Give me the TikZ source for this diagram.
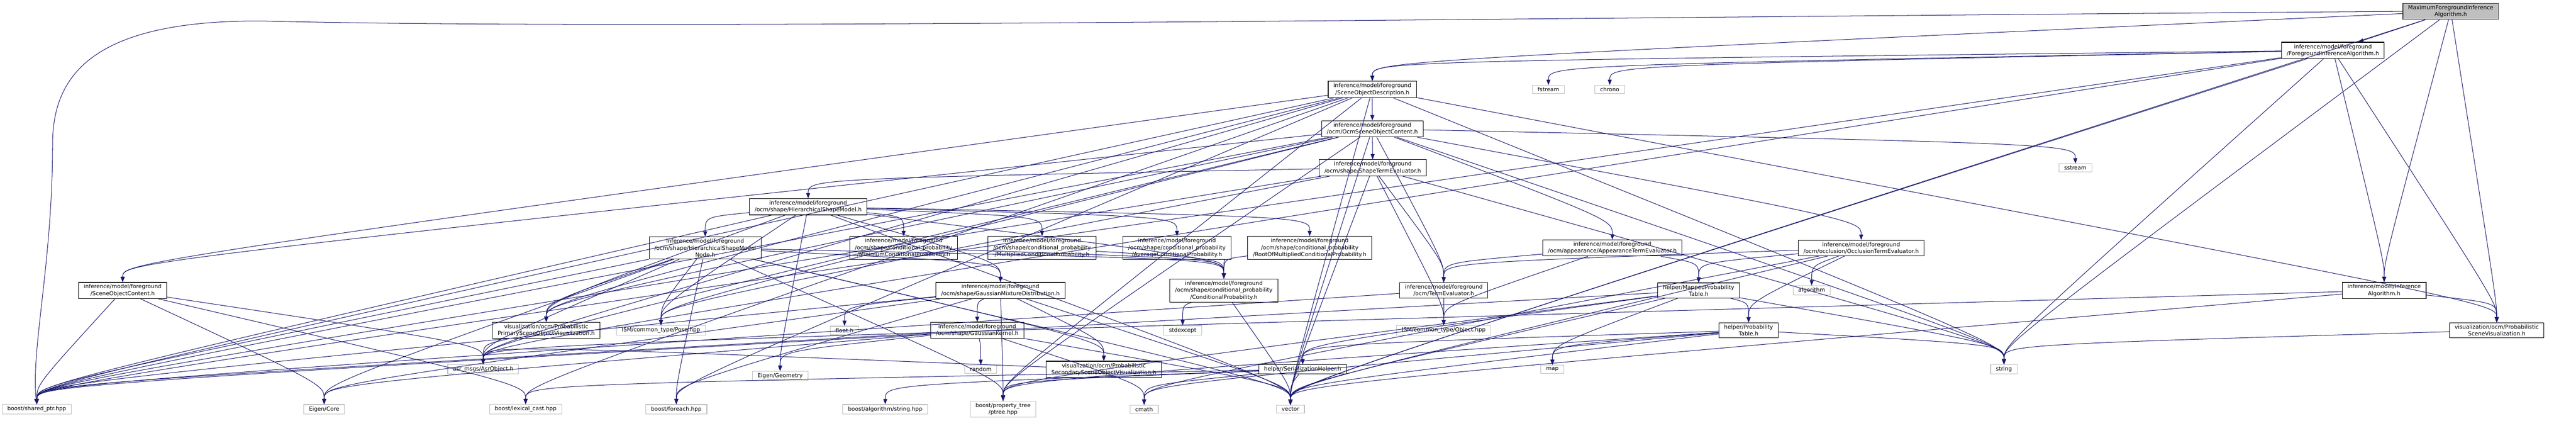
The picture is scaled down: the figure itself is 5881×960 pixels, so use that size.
\documentclass[tikz,border=0pt]{standalone}
\usepackage{fontspec}
\setmainfont{DejaVu Sans}
\usetikzlibrary{arrows.meta,calc}
\definecolor{edgec}{HTML}{191970}
\definecolor{sysb}{HTML}{BFBFBF}
\newcommand\dgf{\fontsize{12.7}{15.7}\selectfont}
\tikzset{
  doc/.style={draw=black, fill=white, align=center, font=\dgf, inner xsep=12pt, inner ysep=4.5pt, line width=1.3pt},
  sys/.style={draw=sysb, fill=white, align=center, font=\dgf, inner xsep=12pt, inner ysep=4.5pt, line width=1.3pt},
  root/.style={doc, fill=sysb, draw=black!75},
  inc/.style={draw=edgec, line width=1.2pt, -{Triangle[length=12pt,width=9pt]}}
}
\newcommand\E[2]{\draw[inc] (#1) .. controls ($(#2.north)+(0,-45)$) .. (#2.north);}
\begin{document}
\begin{tikzpicture}[x=1pt,y=-1pt]
\useasboundingbox (0,0) rectangle (5881,960);
% rank 0
\node[root] (max) at (5595,26) {MaximumForegroundInference\\Algorithm.h};
% rank 1
\node[doc] (fia) at (5326,115) {inference/model/foreground\\/ForegroundInferenceAlgorithm.h};
% rank 2
\node[doc] (sod) at (3133,204) {inference/model/foreground\\/SceneObjectDescription.h};
\node[sys] (fstream) at (3535,204) {fstream};
\node[sys] (chrono) at (3675,204) {chrono};
% rank 3
\node[doc] (ocm) at (3133,294) {inference/model/foreground\\/ocm/OcmSceneObjectContent.h};
% rank 4
\node[doc] (ste) at (3134,383) {inference/model/foreground\\/ocm/shape/ShapeTermEvaluator.h};
\node[sys] (sstream) at (4738,383) {sstream};
% rank 5
\node[doc] (hsm) at (1845,472) {inference/model/foreground\\/ocm/shape/HierarchicalShapeModel.h};
% rank 6
\node[doc] (hsmn) at (1610,566) {inference/model/foreground\\/ocm/shape/HierarchicalShapeModel\\Node.h};
\node[doc] (mincp) at (2063,566) {inference/model/foreground\\/ocm/shape/conditional\_probability\\/MinimumConditionalProbability.h};
\node[doc] (mulcp) at (2379,566) {inference/model/foreground\\/ocm/shape/conditional\_probability\\/MultipliedConditionalProbability.h};
\node[doc] (avgcp) at (2687,566) {inference/model/foreground\\/ocm/shape/conditional\_probability\\/AverageConditionalProbability.h};
\node[doc] (rootcp) at (2990,566) {inference/model/foreground\\/ocm/shape/conditional\_probability\\/RootOfMultipliedConditionalProbability.h};
\node[doc] (ate) at (3681,566) {inference/model/foreground\\/ocm/appearance/AppearanceTermEvaluator.h};
\node[doc] (ote) at (4249,566) {inference/model/foreground\\/ocm/occlusion/OcclusionTermEvaluator.h};
% rank 7
\node[doc] (soc) at (280,663) {inference/model/foreground\\/SceneObjectContent.h};
\node[doc] (gmd) at (2284,663) {inference/model/foreground\\/ocm/shape/GaussianMixtureDistribution.h};
\node[doc] (cp) at (2794,663) {inference/model/foreground\\/ocm/shape/conditional\_probability\\/ConditionalProbability.h};
\node[doc] (te) at (3296,663) {inference/model/foreground\\/ocm/TermEvaluator.h};
\node[doc] (mpt) at (3878,663) {helper/MappedProbability\\Table.h};
\node[sys] (algorithm) at (4136,663) {algorithm};
\node[doc] (ia) at (5443,663) {inference/model/Inference\\Algorithm.h};
% rank 8
\node[doc] (psov) at (1247,754) {visualization/ocm/Probabilistic\\PrimarySceneObjectVisualization.h};
\node[sys] (pose) at (1509,754) {ISM/common\_type/Pose.hpp};
\node[sys] (fth) at (1928,754) {float.h};
\node[doc] (gk) at (2231,754) {inference/model/foreground\\/ocm/shape/GaussianKernel.h};
\node[sys] (stdexcept) at (2700,754) {stdexcept};
\node[sys] (obj) at (3296,754) {ISM/common\_type/Object.hpp};
\node[doc] (pt) at (3992,754) {helper/Probability\\Table.h};
\node[doc] (psv) at (5700,754) {visualization/ocm/Probabilistic\\SceneVisualization.h};
% rank 9
\node[sys] (asrobj) at (1103,843) {asr\_msgs/AsrObject.h};
\node[sys] (eigeom) at (1781,858) {Eigen/Geometry};
\node[sys] (random) at (2239,843) {random};
\node[doc] (ssov) at (2520,843) {visualization/ocm/Probabilistic\\SecondarySceneObjectVisualization.h};
\node[doc] (sh) at (2974,843) {helper/SerializationHelper.h};
\node[sys] (map) at (3544,843) {map};
\node[sys] (string) at (4575,843) {string};
% rank 10
\node[sys] (shptr) at (84,934) {boost/shared\_ptr.hpp};
\node[sys] (eicore) at (740,934) {Eigen/Core};
\node[sys] (lexcast) at (1200,934) {boost/lexical\_cast.hpp};
\node[sys] (foreach) at (1544,934) {boost/foreach.hpp};
\node[sys] (algstr) at (2021,934) {boost/algorithm/string.hpp};
\node[sys] (ptree) at (2290,934) {boost/property\_tree\\/ptree.hpp};
\node[sys] (cmath) at (2612,934) {cmath};
\node[sys] (vector) at (2946,934) {vector};
% edges
\draw[inc] (max.west) .. controls (3500,40) and (1500,70) .. (600,48)
  .. controls (200,45) and (120,180) .. (120,330)
  .. controls (120,600) and (70,800) .. (shptr.north);
\draw[inc] (max) -- (fia);
\foreach \a/\b in {max/sod,max/ia,max/psv,max/string,max/vector,
  fia/sod,fia/ia,fia/psv,fia/asrobj,fia/string,fia/vector,fia/shptr,fia/fstream,fia/chrono,
  sod/soc,sod/shptr,sod/asrobj,sod/psov,sod/string,sod/vector,sod/ptree,sod/foreach,sod/lexcast,sod/psv,
  ocm/ate,ocm/ote,ocm/soc,ocm/te,ocm/sstream,ocm/string,ocm/vector,ocm/shptr,ocm/asrobj,ocm/pose,ocm/psov,ocm/ptree,
  ste/hsm,ste/te,ste/obj,ste/pose,ste/vector,ste/string,ste/shptr,
  hsm/hsmn,hsm/mincp,hsm/mulcp,hsm/avgcp,hsm/rootcp,hsm/cp,hsm/gmd,hsm/pose,hsm/psov,hsm/shptr,hsm/vector,hsm/eigeom,
  hsmn/gmd,hsmn/cp,hsmn/pose,hsmn/psov,hsmn/ssov,hsmn/asrobj,hsmn/vector,hsmn/shptr,hsmn/ptree,hsmn/foreach,hsmn/eicore,
  mincp/cp,mulcp/cp,avgcp/cp,rootcp/cp,cp/stdexcept,cp/vector,
  gmd/gk,gmd/ssov,gmd/ptree,gmd/foreach,gmd/eicore,gmd/shptr,gmd/vector,gmd/fth,
  gk/random,gk/eicore,gk/eigeom,gk/cmath,gk/vector,gk/shptr,
  te/obj,te/shptr,ate/te,ate/mpt,ate/obj,ote/te,ote/mpt,ote/pt,ote/algorithm,ote/cmath,ote/vector,
  mpt/pt,mpt/map,mpt/ptree,mpt/shptr,mpt/vector,mpt/string,mpt/sh,
  pt/sh,pt/map,pt/cmath,pt/vector,pt/ptree,pt/string,
  sh/algstr,sh/ptree,sh/lexcast,sh/cmath,sh/vector,
  ia/psv,ia/vector,ia/asrobj,psv/string,psov/asrobj,ssov/asrobj,soc/shptr,soc/asrobj,soc/eicore,soc/lexcast}
  {\E{\a}{\b}}
\draw[inc] (sod) -- (ocm);
\draw[inc] (ocm) -- (ste);
\end{tikzpicture}
\end{document}
